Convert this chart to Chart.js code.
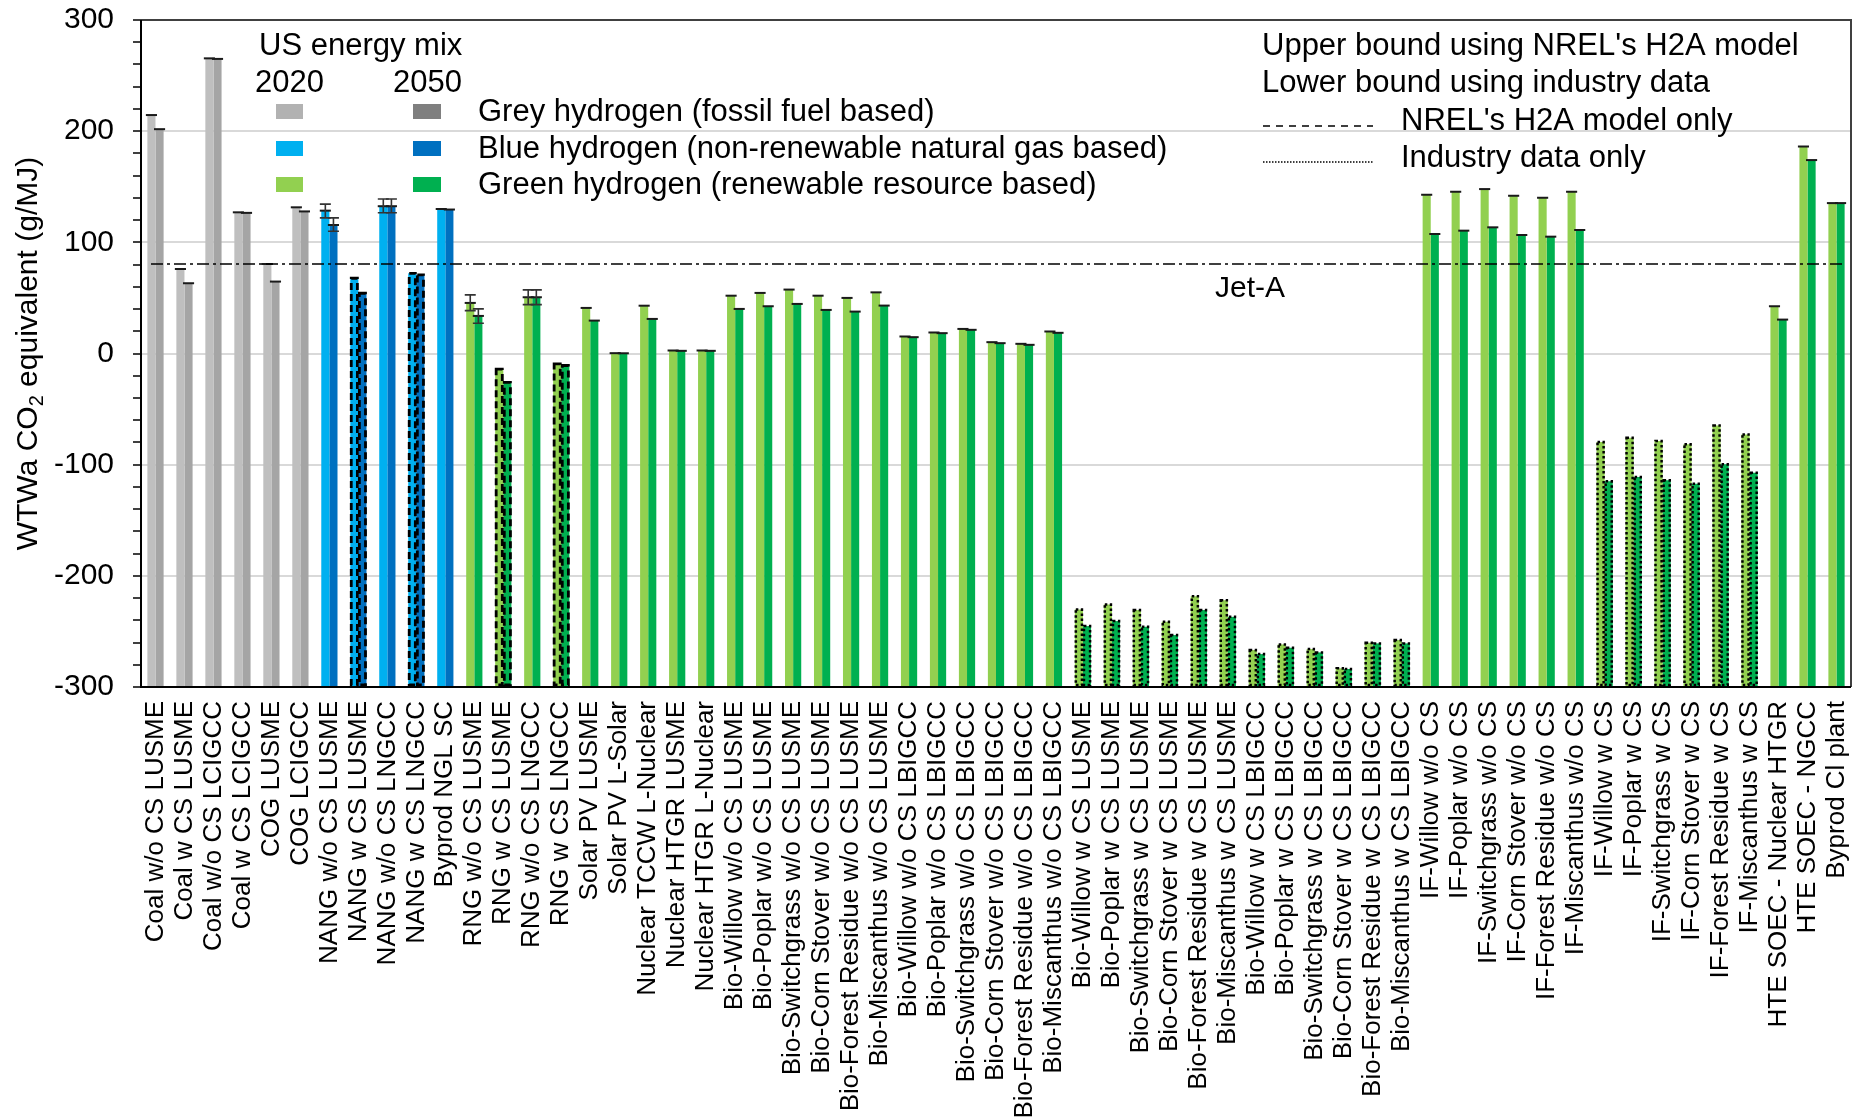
<!DOCTYPE html>
<html>
<head>
<meta charset="utf-8">
<script src="https://cdn.jsdelivr.net/npm/chart.js@4.4.1/dist/chart.umd.min.js"></script>
<style>
  html, body { margin: 0; padding: 0; background: #ffffff; }
  #wrap { width: 1870px; height: 1118px; }
</style>
</head>
<body>
<div id="wrap"><canvas id="c" width="1870" height="1118"></canvas></div>
<script>
const categories = [
  "Coal w/o CS LUSME", "Coal w CS LUSME", "Coal w/o CS LCIGCC", "Coal w CS LCIGCC",
  "COG LUSME", "COG LCIGCC",
  "NANG w/o CS LUSME", "NANG w CS LUSME", "NANG w/o CS LNGCC", "NANG w CS LNGCC", "Byprod NGL SC",
  "RNG w/o CS LUSME", "RNG w CS LUSME", "RNG w/o CS LNGCC", "RNG w CS LNGCC",
  "Solar PV LUSME", "Solar PV L-Solar", "Nuclear TCCW L-Nuclear", "Nuclear HTGR LUSME", "Nuclear HTGR L-Nuclear",
  "Bio-Willow w/o CS LUSME", "Bio-Poplar w/o CS LUSME", "Bio-Switchgrass w/o CS LUSME",
  "Bio-Corn Stover w/o CS LUSME", "Bio-Forest Residue w/o CS LUSME", "Bio-Miscanthus w/o CS LUSME",
  "Bio-Willow w/o CS LBIGCC", "Bio-Poplar w/o CS LBIGCC", "Bio-Switchgrass w/o CS LBIGCC",
  "Bio-Corn Stover w/o CS LBIGCC", "Bio-Forest Residue w/o CS LBIGCC", "Bio-Miscanthus w/o CS LBIGCC",
  "Bio-Willow w CS LUSME", "Bio-Poplar w CS LUSME", "Bio-Switchgrass w CS LUSME",
  "Bio-Corn Stover w CS LUSME", "Bio-Forest Residue w CS LUSME", "Bio-Miscanthus w CS LUSME",
  "Bio-Willow w CS LBIGCC", "Bio-Poplar w CS LBIGCC", "Bio-Switchgrass w CS LBIGCC",
  "Bio-Corn Stover w CS LBIGCC", "Bio-Forest Residue w CS LBIGCC", "Bio-Miscanthus w CS LBIGCC",
  "IF-Willow w/o CS", "IF-Poplar w/o CS", "IF-Switchgrass w/o CS", "IF-Corn Stover w/o CS",
  "IF-Forest Residue w/o CS", "IF-Miscanthus w/o CS",
  "IF-Willow w CS", "IF-Poplar w CS", "IF-Switchgrass w CS", "IF-Corn Stover w CS",
  "IF-Forest Residue w CS", "IF-Miscanthus w CS",
  "HTE SOEC - Nuclear HTGR", "HTE SOEC - NGCC", "Byprod Cl plant"
];

// 2020 US energy mix values (g/MJ)
const values2020 = [
  214.5, 76, 265.5, 127, 80.5, 131.5,
  128.5, 67.7, 132.5, 72.1, 130,
  45.5, -14, 50.6, -9.3,
  41, 0.3, 43, 2.7, 2.7,
  52, 54.5, 57.5, 52, 50, 55,
  15.3, 18.9, 22.1, 10.2, 8.7, 19.8,
  -230.3, -225.8, -230.8, -241.3, -218.3, -221.9,
  -266.8, -261.7, -265.9, -283.2, -260.2, -257.8,
  142.8, 145.5, 147.9, 141.9, 140.1, 145.5,
  -79.7, -75.8, -78.8, -81.7, -64.7, -72.8,
  42.5, 186.2, 135.3
];

// 2050 US energy mix values (g/MJ)
const values2050 = [
  201.8, 63.2, 265, 126.5, 64.7, 127.8,
  115.6, 54.2, 132.5, 70.8, 129.5,
  33.8, -26, 50.6, -10.8,
  29.6, 0.2, 31.1, 2.4, 2.4,
  40.1, 42.5, 44.6, 39.2, 37.7, 43.1,
  14.7, 18.3, 21.3, 9.3, 7.8, 18.6,
  -245.2, -240.7, -245.8, -253.3, -230.8, -236.9,
  -270.4, -264.7, -268.9, -283.8, -260.8, -260.8,
  107.5, 110.5, 113.5, 106.6, 105.1, 111.1,
  -115, -111.1, -114.1, -117.1, -99.7, -107.2,
  30.5, 174, 135.3
];

// Error ranges [low, high] (null = none)
const err2020 = categories.map(() => null);
err2020[6] = [122, 134.4]; err2020[8] = [126.6, 139]; err2020[11] = [38.6, 52.7]; err2020[13] = [44, 57.2];
const err2050 = categories.map(() => null);
err2050[6] = [110, 122]; err2050[8] = [126.6, 139]; err2050[11] = [27.2, 40.1]; err2050[13] = [44, 57.2];

// group: 'grey' | 'blue' | 'green' ; outline: 'solid' | 'dash' (H2A only) | 'dot' (industry only)
const groups = categories.map((c, i) => i < 6 ? 'grey' : (i < 11 ? 'blue' : 'green'));
const outlines = categories.map((c, i) => {
  if ([7, 9, 12, 14].includes(i)) return 'dash';
  if ((i >= 32 && i <= 43) || (i >= 50 && i <= 55)) return 'dot';
  return 'solid';
});

const jetA = 80.5;
const yTicksMajor = [-300, -200, -100, 0, 100, 200, 300];

const barColors2020 = { grey: '#bfbfbf', blue: '#00b0f0', green: '#92d050' };
const barColors2050 = { grey: '#a5a5a5', blue: '#0070c0', green: '#00b050' };
const legendColors2020 = { grey: '#b2b2b2', blue: '#00b0f0', green: '#92d050' };
const legendColors2050 = { grey: '#7f7f7f', blue: '#0070c0', green: '#00b050' };

const FONT = "'Liberation Sans', Arial, sans-serif";
Chart.defaults.font.family = FONT;
Chart.defaults.color = '#000';

const overlayPlugin = {
  id: 'overlay',
  afterDatasetsDraw(chart) {
    const ctx = chart.ctx;
    const ys = chart.scales.y;
    const area = chart.chartArea;
    [0, 1].forEach(di => {
      const meta = chart.getDatasetMeta(di);
      const errs = di === 0 ? err2020 : err2050;
      meta.data.forEach((bar, i) => {
        const p = bar.getProps(['x', 'y', 'width', 'base'], true);
        const l = p.x - p.width / 2, r = p.x + p.width / 2;
        ctx.save();
        if (outlines[i] === 'solid') {
          ctx.strokeStyle = '#1a1a1a';
          ctx.lineWidth = 2;
          ctx.beginPath();
          ctx.moveTo(l - 1.5, p.y); ctx.lineTo(r + 1.5, p.y);
          ctx.stroke();
        } else {
          ctx.strokeStyle = '#000';
          ctx.lineWidth = outlines[i] === 'dash' ? 2.8 : 2.5;
          ctx.setLineDash(outlines[i] === 'dash' ? [7, 4] : [2.5, 2.5]);
          ctx.strokeRect(l + 1, p.y, p.width - 2, p.base - p.y - 1);
        }
        const e = errs[i];
        if (e) {
          const y1 = ys.getPixelForValue(e[0]);
          const y2 = ys.getPixelForValue(e[1]);
          ctx.setLineDash([]);
          ctx.strokeStyle = '#333';
          ctx.lineWidth = 1.6;
          ctx.beginPath();
          ctx.moveTo(p.x, y1); ctx.lineTo(p.x, y2);
          ctx.moveTo(p.x - 5.5, y1); ctx.lineTo(p.x + 5.5, y1);
          ctx.moveTo(p.x - 5.5, y2); ctx.lineTo(p.x + 5.5, y2);
          ctx.stroke();
        }
        ctx.restore();
      });
    });
    const yj = ys.getPixelForValue(jetA);
    ctx.save();
    ctx.strokeStyle = '#000';
    ctx.lineWidth = 1.5;
    ctx.setLineDash([12, 4, 3, 4]);
    ctx.beginPath();
    ctx.moveTo(area.left + 10, yj); ctx.lineTo(area.right - 8, yj);
    ctx.stroke();
    ctx.restore();
  },
  afterDraw(chart) {
    const ctx = chart.ctx;
    const area = chart.chartArea;
    const ys = chart.scales.y;
    ctx.save();
    ctx.lineWidth = 2;
    ctx.strokeStyle = '#404040';
    ctx.beginPath();
    ctx.moveTo(area.left, area.top); ctx.lineTo(area.right, area.top); ctx.lineTo(area.right, area.bottom);
    ctx.stroke();
    ctx.strokeStyle = '#000';
    ctx.beginPath();
    ctx.moveTo(area.left, area.top); ctx.lineTo(area.left, area.bottom); ctx.lineTo(area.right, area.bottom);
    ctx.stroke();

    ctx.fillStyle = '#000';
    ctx.save();
    ctx.translate(37, (area.top + area.bottom) / 2);
    ctx.rotate(-Math.PI / 2);
    ctx.textBaseline = 'alphabetic';
    const big = '30px ' + FONT, small = '20px ' + FONT;
    const p1 = 'WTWa CO', p2 = '2', p3 = ' equivalent (g/MJ)';
    ctx.font = big; const w1 = ctx.measureText(p1).width, w3 = ctx.measureText(p3).width;
    ctx.font = small; const w2 = ctx.measureText(p2).width;
    let x0 = -(w1 + w2 + w3) / 2;
    ctx.font = big; ctx.textAlign = 'left';
    ctx.fillText(p1, x0, 0);
    ctx.font = small; ctx.fillText(p2, x0 + w1, 6);
    ctx.font = big; ctx.fillText(p3, x0 + w1 + w2, 0);
    ctx.restore();

    ctx.font = '30px ' + FONT;
    ctx.textAlign = 'center';
    ctx.textBaseline = 'alphabetic';
    ctx.fillText('Jet-A', 1250, ys.getPixelForValue(jetA) + 33);

    ctx.font = '31px ' + FONT;
    ctx.textAlign = 'left';
    ctx.fillText('US energy mix', 259, 55);
    ctx.fillText('2020', 255, 92);
    ctx.fillText('2050', 393, 92);
    const rows = [
      ['grey', 'Grey hydrogen (fossil fuel based)', 104],
      ['blue', 'Blue hydrogen (non-renewable natural gas based)', 141],
      ['green', 'Green hydrogen (renewable resource based)', 177]
    ];
    rows.forEach(rw => {
      ctx.fillStyle = legendColors2020[rw[0]];
      ctx.fillRect(276, rw[2], 27, 15);
      ctx.fillStyle = legendColors2050[rw[0]];
      ctx.fillRect(413, rw[2], 28, 15);
      ctx.fillStyle = '#000';
      ctx.fillText(rw[1], 478, rw[2] + 17);
    });

    ctx.fillText("Upper bound using NREL's H2A model", 1262, 55);
    ctx.fillText('Lower bound using industry data', 1262, 92);
    ctx.fillText("NREL's H2A model only", 1401, 130);
    ctx.fillText('Industry data only', 1401, 167);
    ctx.strokeStyle = '#000';
    ctx.lineWidth = 1.5;
    ctx.setLineDash([7, 6]);
    ctx.beginPath(); ctx.moveTo(1263, 126); ctx.lineTo(1373, 126); ctx.stroke();
    ctx.setLineDash([1.5, 1.5]);
    ctx.beginPath(); ctx.moveTo(1263, 162); ctx.lineTo(1373, 162); ctx.stroke();
    ctx.restore();
  }
};

new Chart(document.getElementById('c'), {
  type: 'bar',
  data: {
    labels: categories,
    datasets: [
      {
        label: '2020',
        data: values2020,
        base: -300,
        backgroundColor: groups.map(g => barColors2020[g]),
        borderWidth: 0,
        categoryPercentage: 0.56,
        barPercentage: 1.0
      },
      {
        label: '2050',
        data: values2050,
        base: -300,
        backgroundColor: groups.map(g => barColors2050[g]),
        borderWidth: 0,
        categoryPercentage: 0.56,
        barPercentage: 1.0
      }
    ]
  },
  options: {
    responsive: false,
    animation: false,
    devicePixelRatio: 1,
    layout: { padding: { top: 20, right: 19, left: 0, bottom: 0 } },
    plugins: { legend: { display: false }, tooltip: { enabled: false } },
    scales: {
      x: {
        grid: { display: false, drawTicks: false },
        border: { display: false },
        ticks: {
          autoSkip: false, maxRotation: 90, minRotation: 90,
          font: { size: 26 }, color: '#000', padding: 14
        },
        afterFit(scale) {
          scale.height = 431;
          scale.paddingLeft = 0; scale.paddingRight = 0;
        }
      },
      y: {
        min: -300, max: 300,
        border: { display: false },
        grid: {
          color: c => (c.tick && yTicksMajor.includes(c.tick.value)) ? '#d9d9d9' : 'rgba(0,0,0,0)',
          lineWidth: 2,
          tickColor: '#000',
          tickLength: 8,
          tickWidth: 1.5
        },
        ticks: {
          stepSize: 20,
          autoSkip: false,
          padding: 19,
          font: { size: 30 },
          color: '#000',
          callback: v => yTicksMajor.includes(v) ? String(v) : ''
        },
        afterFit(scale) {
          scale.width = 141;
          scale.paddingTop = 0; scale.paddingBottom = 0;
        }
      }
    }
  },
  plugins: [overlayPlugin]
});
</script>
</body>
</html>
